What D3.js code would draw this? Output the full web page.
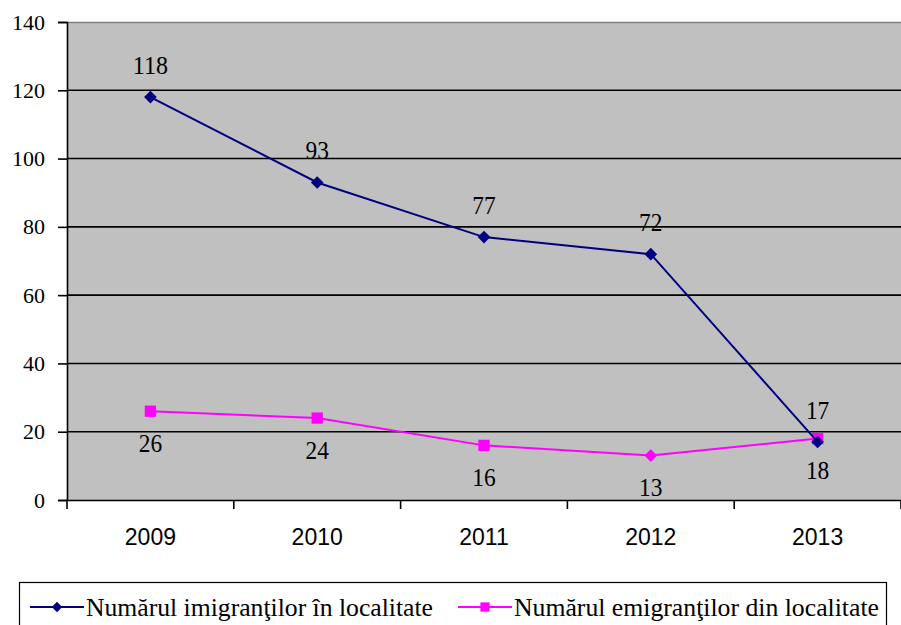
<!DOCTYPE html>
<html>
<head>
<meta charset="utf-8">
<script src="https://cdn.jsdelivr.net/npm/d3@7"></script>
<style>
  body { margin: 0; background: #fff; }
  svg { display: block; }
</style>
</head>
<body>
<svg id="chart" width="901" height="625"></svg>
<script>
// ---------- data ----------
const years = ["2009", "2010", "2011", "2012", "2013"];
const imigranti = [118, 93, 77, 72, 17];
const emigranti = [26, 24, 16, 13, 18];
const yTicks = [0, 20, 40, 60, 80, 100, 120, 140];
const seriesNames = ["Numărul imigranţilor în localitate", "Numărul emigranţilor din localitate"];
// the 2012 point of the second series is drawn as a diamond in the original
const emigrantiSymbols = ["square", "square", "square", "diamond", "square"];

const SERIF = "Liberation Serif";
const SANS = "Liberation Sans";

const svg = d3.select("#chart");
const plot = { left: 67, top: 22, right: 901, bottom: 500 };

const x = d3.scaleBand().domain(years).range([plot.left, plot.right]);
const y = d3.scaleLinear().domain([0, 140]).range([plot.bottom, plot.top]);

// plot background
svg.append("rect")
  .attr("x", plot.left).attr("y", plot.top)
  .attr("width", plot.right - plot.left).attr("height", plot.bottom - plot.top)
  .attr("fill", "#c0c0c0");

// top border (grey)
svg.append("line")
  .attr("x1", plot.left).attr("x2", plot.right)
  .attr("y1", plot.top + 0.5).attr("y2", plot.top + 0.5)
  .attr("stroke", "#808080").attr("stroke-width", 1.5);

// gridlines
svg.append("g").selectAll("line")
  .data(yTicks.filter(d => d > 0 && d < 140))
  .join("line")
  .attr("x1", plot.left).attr("x2", plot.right)
  .attr("y1", d => y(d)).attr("y2", d => y(d))
  .attr("stroke", "#000").attr("stroke-width", 1.6);

// y axis
const yAxis = svg.append("g")
  .attr("transform", `translate(${plot.left},0)`)
  .call(d3.axisLeft(y).tickValues(yTicks).tickSize(9).tickPadding(13));
yAxis.select(".domain").attr("stroke-width", 1.6);
yAxis.selectAll(".tick line").attr("stroke-width", 1.6);
yAxis.selectAll("text")
  .attr("font-family", SERIF).attr("font-size", 22).attr("fill", "#000");

// x axis (ticks at band boundaries)
const xAxis = svg.append("g")
  .attr("transform", `translate(0,${plot.bottom})`)
  .call(d3.axisBottom(x).tickSize(0).tickPadding(29));
xAxis.select(".domain").attr("stroke-width", 1.6);
xAxis.selectAll("text")
  .attr("font-family", SANS).attr("font-size", 23).attr("fill", "#000");
svg.append("g").selectAll("line")
  .data(years.concat(["end"]))
  .join("line")
  .attr("x1", (d, i) => plot.left + i * x.step())
  .attr("x2", (d, i) => plot.left + i * x.step())
  .attr("y1", plot.bottom).attr("y2", plot.bottom + 9)
  .attr("stroke", "#000").attr("stroke-width", 1.6);

const cx = d => x(d) + x.bandwidth() / 2;
const line = d3.line().x((d, i) => cx(years[i])).y(d => y(d));

// square marker, rotated 45 degrees for diamonds
function marker(sel, kind, size) {
  sel.attr("d", d3.symbol(d3.symbolSquare, size)());
  if (kind === "diamond") sel.attr("transform", sel.attr("transform") + " rotate(45)");
}

function drawSeries(values, color, symbols, labelDy) {
  svg.append("path")
    .datum(values)
    .attr("d", line)
    .attr("fill", "none")
    .attr("stroke", color)
    .attr("stroke-width", 2);

  const g = svg.append("g");
  values.forEach((d, i) => {
    const p = g.append("path")
      .attr("transform", `translate(${cx(years[i])},${y(d)})`)
      .attr("fill", color);
    marker(p, symbols[i], symbols[i] === "square" ? 128 : 80);
  });

  // labels are slightly condensed in the original (tall but narrow digits)
  svg.append("g")
    .selectAll("text")
    .data(values)
    .join("text")
    .attr("font-family", SERIF).attr("font-size", 25)
    .attr("x", (d, i) => cx(years[i]))
    .attr("y", d => y(d) + labelDy)
    .attr("text-anchor", "middle")
    .attr("dy", "0.35em")
    .attr("textLength", d => String(d).length * 11.7)
    .attr("lengthAdjust", "spacingAndGlyphs")
    .text(d => d);
}

drawSeries(emigranti, "#ff00ff", emigrantiSymbols, 32);
drawSeries(imigranti, "#000080", years.map(() => "diamond"), -32);

// legend
const legend = svg.append("g");
legend.append("rect")
  .attr("x", 19.5).attr("y", 582.5)
  .attr("width", 867).attr("height", 60)
  .attr("fill", "#fff").attr("stroke", "#000").attr("stroke-width", 1.2);

const legendItems = [
  { name: seriesNames[0], color: "#000080", kind: "diamond", x: 30, w: 347 },
  { name: seriesNames[1], color: "#ff00ff", kind: "square", x: 458, w: 365 }
];
const ly = 607;
legendItems.forEach(it => {
  legend.append("line")
    .attr("x1", it.x).attr("x2", it.x + 54)
    .attr("y1", ly).attr("y2", ly)
    .attr("stroke", it.color).attr("stroke-width", 2);
  const p = legend.append("path")
    .attr("transform", `translate(${it.x + 27},${ly})`)
    .attr("fill", it.color);
  marker(p, it.kind, it.kind === "square" ? 85 : 55);
  legend.append("text")
    .attr("font-family", SERIF).attr("font-size", 26)
    .attr("x", it.x + 56).attr("y", ly)
    .attr("dy", "0.35em")
    .attr("textLength", it.w).attr("lengthAdjust", "spacingAndGlyphs")
    .text(it.name);
});
</script>
</body>
</html>
